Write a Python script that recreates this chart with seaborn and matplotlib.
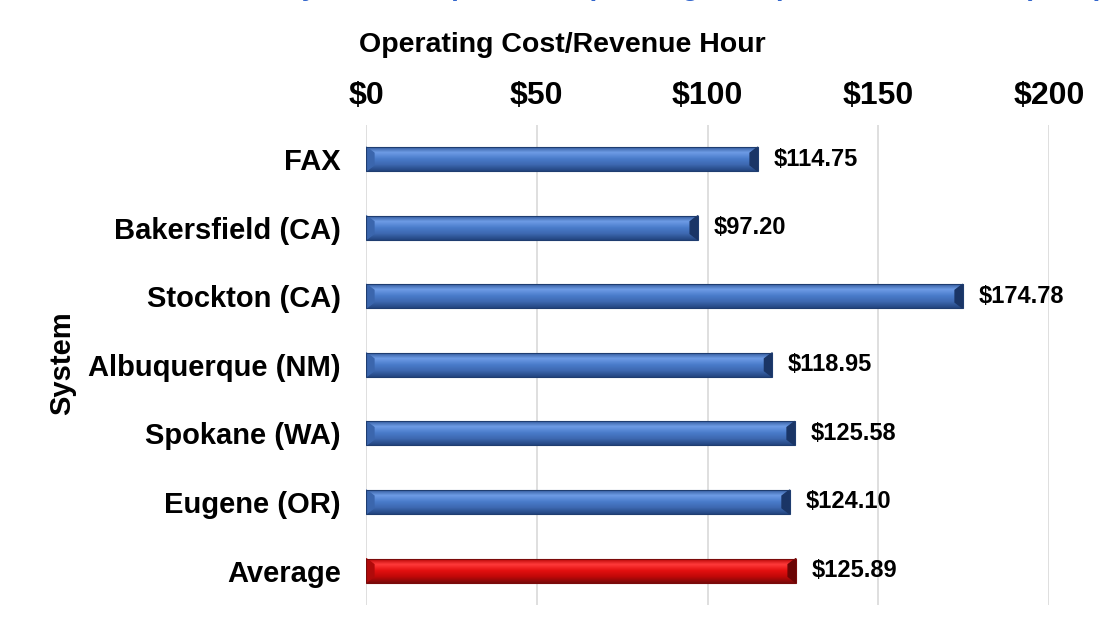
import numpy as np
import pandas as pd
import matplotlib.pyplot as plt
import seaborn as sns
from matplotlib.colors import LinearSegmentedColormap

# data
systems = ['FAX', 'Bakersfield (CA)', 'Stockton (CA)', 'Albuquerque (NM)',
           'Spokane (WA)', 'Eugene (OR)', 'Average']
cost_per_hour = [114.75, 97.20, 174.78, 118.95, 125.58, 124.10, 125.89]
x_ticks = [0, 50, 100, 150, 200]

df = pd.DataFrame({'System': systems, 'Cost': cost_per_hour})
df['kind'] = ['peer'] * 6 + ['avg']

sns.set_theme(style='white')
plt.rcParams['font.family'] = ['Liberation Sans', 'DejaVu Sans']
plt.rcParams['text.color'] = 'black'
plt.rcParams['axes.labelcolor'] = 'black'
plt.rcParams['xtick.color'] = 'black'
plt.rcParams['ytick.color'] = 'black'

fig = plt.figure(figsize=(11.06, 6.3), dpi=100)
ax = fig.add_axes([0.331, 0.04, 0.6175, 0.762])

sns.barplot(data=df, x='Cost', y='System', hue='kind', dodge=False,
            palette={'peer': '#4a7cc9', 'avg': '#e01010'}, width=0.35,
            legend=False, ax=ax, orient='h')

# bevel look: vertical gradient clipped to each bar
blue_cm = LinearSegmentedColormap.from_list(
    'b', ['#2c5294', '#6e9ce6', '#4a7ccb', '#3d68b0', '#23457f'])
red_cm = LinearSegmentedColormap.from_list(
    'r', ['#b00000', '#ff3a3a', '#e31010', '#c00808', '#7a0a0a'])
grad = np.linspace(0, 1, 64).reshape(-1, 1)
for patch, kind in zip(ax.patches, df['kind']):
    x0, y0 = patch.get_x(), patch.get_y()
    w, h = patch.get_width(), patch.get_height()
    cm = red_cm if kind == 'avg' else blue_cm
    im = ax.imshow(grad, cmap=cm, aspect='auto', extent=[x0, x0 + w, y0 + h, y0],
                   origin='upper', zorder=3)
    im.set_clip_path(patch)
    patch.set_edgecolor('#1f3d70' if kind == 'peer' else '#7a0a0a')
    patch.set_linewidth(0.8)
    patch.set_zorder(4)
    patch.set_facecolor('none')
    # bevelled ends
    ax.fill([x0 + w - 2.3, x0 + w, x0 + w, x0 + w - 2.3],
            [y0 + h * 0.25, y0, y0 + h, y0 + h * 0.75],
            color='#1a3566' if kind == 'peer' else '#6a0505', zorder=3.5)
    ax.fill([x0, x0 + 2.3, x0 + 2.3, x0],
            [y0, y0 + h * 0.25, y0 + h * 0.75, y0 + h],
            color='#3b66ad' if kind == 'peer' else '#b00a0a', zorder=3.5)

for i, v in enumerate(cost_per_hour):
    ax.text(v + 4.6, i, f'${v:.2f}', va='center', ha='left',
            fontsize=17, fontweight='bold', color='black', zorder=5)

ax.set_xlim(0, 200)
ax.set_ylim(6.5, -0.5)
ax.xaxis.tick_top()
ax.xaxis.set_label_position('top')
ax.set_xticks(x_ticks)
ax.set_xticklabels([f'${t}' for t in x_ticks], fontsize=23, fontweight='bold')
ax.tick_params(axis='x', length=0, pad=10)
ax.tick_params(axis='y', length=0, pad=18, labelsize=21)
for lbl in ax.get_yticklabels():
    lbl.set_fontweight('bold')
ax.set_xlabel('Operating Cost/Revenue Hour', fontsize=20.5, fontweight='bold')
ax.xaxis.set_label_coords((562 - 366) / 683, (630 - 45 - 25.2) / 480)
ax.xaxis.label.set_va('center')
ax.set_ylabel('System', fontsize=21, fontweight='bold')
ax.yaxis.set_label_coords((62 - 366) / 683, (605 - 363) / 480)
ax.yaxis.label.set_va('center')
ax.grid(axis='x', color='#d9d9d9', linewidth=1.2)
ax.grid(axis='y', visible=False)
ax.set_axisbelow(True)
for s in ax.spines.values():
    s.set_visible(False)

# title sits mostly above the visible area in the reference
fig.text(1103 / 1106, 1.0085, 'Peer System Comparison: Operating Cost per Revenue Hour (2019)',
         ha='right', va='baseline', fontsize=20, fontweight='bold', color='#3366cc')

fig.savefig('out.png', dpi=100)
